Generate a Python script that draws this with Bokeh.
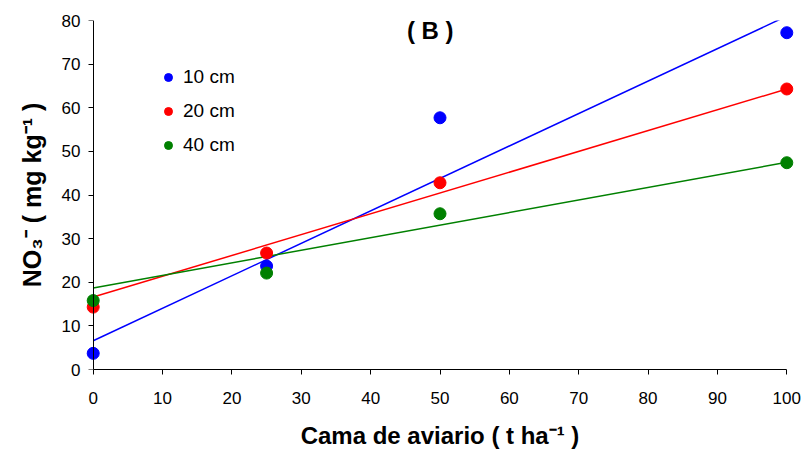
from bokeh.plotting import figure
from bokeh.models import (Range1d, Legend, LegendItem, Label, LinearAxis, FixedTicker,
                          CustomLabelingPolicy)
from bokeh.embed import file_html
from bokeh.resources import INLINE

# Data
dose = [0, 25, 50, 100]
no3_10cm = [3.7, 23.7, 57.7, 77.2]
no3_20cm = [14.3, 26.7, 42.8, 64.3]
no3_40cm = [15.8, 22.1, 35.7, 47.4]

trend_x = [0, 100]
trend_10cm = [6.6, 81.0]
trend_20cm = [16.6, 64.3]
trend_40cm = [18.7, 47.5]

x_ticks = [0, 10, 20, 30, 40, 50, 60, 70, 80, 90, 100]
y_ticks = [0, 10, 20, 30, 40, 50, 60, 70, 80]

FONT = "Liberation Sans"
BLUE, RED, GREEN = "#0000FF", "#FF0000", "#008000"

p = figure(width=803, height=453, output_backend="svg", toolbar_location=None,
           x_range=Range1d(-1.4, 101.4), y_range=Range1d(0, 80),
           min_border_left=83, min_border_right=7, min_border_top=20, min_border_bottom=84)
p.outline_line_color = None
p.xgrid.visible = False
p.ygrid.visible = False
p.background_fill_color = "white"
p.border_fill_color = "white"

for ax in (p.xaxis[0], p.yaxis[0]):
    ax.axis_line_color = "black"
    ax.major_tick_line_color = "black"
    ax.minor_tick_line_color = None
    ax.major_tick_in = 0
    ax.major_tick_out = 5
    ax.major_label_text_font = FONT
    ax.major_label_text_font_size = "17px"
    ax.major_label_text_color = "black"
    ax.axis_label_text_font = FONT
    ax.axis_label_text_font_style = "bold"
    ax.axis_label_text_color = "black"

p.xaxis.ticker = x_ticks
p.xaxis.bounds = (0, 100)
p.xaxis.major_label_standoff = 17
p.xaxis.axis_label = "Cama de aviario ( t ha\u207b\u00b9 )"
p.xaxis.axis_label_text_font_size = "24px"
p.xaxis.axis_label_standoff = 15

# y axis: labels and title on the frame side
p.yaxis.ticker = y_ticks
p.yaxis.axis_line_color = None
p.yaxis.major_tick_line_color = None
p.yaxis.major_tick_out = 0
p.yaxis.major_label_standoff = 3
p.yaxis.axis_label = "NO\u2083\u207b ( mg kg\u207b\u00b9 )"
p.yaxis.axis_label_text_font_size = "25px"
p.yaxis.axis_label_standoff = 13

# y axis line and ticks drawn at x = 0 (no labels of its own)
no_labels = CustomLabelingPolicy(code="return new Set()")
y_line = LinearAxis(fixed_location=0, ticker=FixedTicker(ticks=y_ticks),
                    axis_line_color="black", major_tick_line_color="black",
                    minor_tick_line_color=None, major_tick_in=0, major_tick_out=5,
                    major_label_policy=no_labels, major_label_text_font_size="1px",
                    major_label_standoff=0)
p.add_layout(y_line, "left")

l1 = p.line(trend_x, trend_10cm, line_color=BLUE, line_width=1.5)
l2 = p.line(trend_x, trend_20cm, line_color=RED, line_width=1.5)
l3 = p.line(trend_x, trend_40cm, line_color=GREEN, line_width=1.5)

s1 = p.scatter(dose, no3_10cm, size=12, fill_color=BLUE, line_color=BLUE)
s2 = p.scatter(dose, no3_20cm, size=12, fill_color=RED, line_color=RED)
s3 = p.scatter(dose, no3_40cm, size=12, fill_color=GREEN, line_color=GREEN)

legend = Legend(items=[LegendItem(label="10 cm", renderers=[s1]),
                       LegendItem(label="20 cm", renderers=[s2]),
                       LegendItem(label="40 cm", renderers=[s3])],
                location=(75, 213), border_line_color=None, background_fill_alpha=0,
                padding=0, margin=0, spacing=12, glyph_width=20, glyph_height=20,
                label_height=20, label_standoff=5,
                label_text_font=FONT, label_text_font_size="19px", label_text_color="black")
p.add_layout(legend)

title = Label(x=48.6, y=77.7, text="( B )", text_font=FONT, text_font_style="bold",
              text_font_size="24px", text_align="center", text_baseline="middle",
              text_color="black")
p.add_layout(title)

open("out.html", "w").write(file_html(p, INLINE))
